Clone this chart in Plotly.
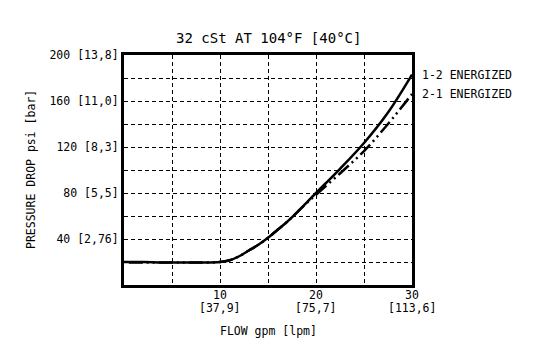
import plotly.graph_objects as go

flow_12 = [0, 2, 4, 6, 8, 10, 11, 12, 13, 14, 15, 16, 17, 18, 19, 20, 22.5, 25, 27.5, 30]
dp_12 = [20, 20, 19.5, 19.5, 19.5, 20, 21.5, 25, 30, 35, 41, 48, 55, 63, 71.5, 80, 101, 123.5, 150, 183]

flow_21 = [0.5, 2, 4, 6, 8, 10, 11, 12, 13, 14, 15, 16, 17, 18, 19, 20, 22.5, 25, 27.5, 30]
dp_21 = [19.5, 19.5, 19.5, 19.5, 19.5, 20, 21.5, 25, 30, 35, 41, 48, 55, 63, 71, 78.5, 97, 116.5, 140, 166]

series_names = ["1-2 ENERGIZED", "2-1 ENERGIZED"]

x_gridvals = [5, 10, 15, 20, 25]
x_label_vals = [10, 20, 30]
x_gpm_text = ["10", "20", "30"]
x_lpm_text = ["[37,9]", "[75,7]", "[113,6]"]
y_tickvals = [20, 40, 60, 80, 100, 120, 140, 160, 180, 200]
y_ticktext = ["", "40 [2,76]", "", "80 [5,5]", "", "120 [8,3]", "", "160 [11,0]", "", "200 [13,8]"]

FONT = "DejaVu Sans Mono, Liberation Mono, monospace"

fig = go.Figure()
fig.add_trace(go.Scatter(x=flow_12, y=dp_12, mode="lines", name=series_names[0],
                         line=dict(color="black", width=2.5, shape="spline")))
fig.add_trace(go.Scatter(x=flow_21, y=dp_21, mode="lines", name=series_names[1],
                         line=dict(color="black", width=2.5, shape="spline",
                                   dash="14px,4px,2px,4px,2px,4px")))

fig.update_layout(
    width=540, height=363,
    margin=dict(l=116, r=136, t=47, b=86),
    paper_bgcolor="white", plot_bgcolor="white",
    showlegend=False,
    font=dict(family=FONT, size=11.5, color="black"),
)
fig.update_xaxes(range=[0, 30], tickvals=x_gridvals, showticklabels=False,
                 showgrid=True, gridcolor="black", griddash="4px,3px", gridwidth=1,
                 showline=True, linecolor="black", linewidth=3, mirror=True,
                 ticks="", zeroline=False)
fig.update_yaxes(range=[0, 200], tickvals=y_tickvals, ticktext=y_ticktext,
                 showgrid=True, gridcolor="black", griddash="4px,3px", gridwidth=1,
                 showline=True, linecolor="black", linewidth=3, mirror=True,
                 ticks="", zeroline=False, tickfont=dict(size=11.5))

for xv, t1, t2 in zip(x_label_vals, x_gpm_text, x_lpm_text):
    fig.add_annotation(text=t1, xref="x", yref="paper", x=xv, y=0, yshift=-10,
                       xanchor="center", yanchor="middle", showarrow=False,
                       font=dict(size=11.5))
    fig.add_annotation(text=t2, xref="x", yref="paper", x=xv, y=0, yshift=-23,
                       xanchor="center", yanchor="middle", showarrow=False,
                       font=dict(size=11.5))

fig.add_annotation(text="32 cSt AT 104°F [40°C]", xref="paper", yref="paper",
                   x=0.5, y=1.0, yshift=17, xanchor="center", yanchor="middle",
                   showarrow=False, font=dict(size=14))
fig.add_annotation(text="FLOW gpm [lpm]", xref="paper", yref="paper",
                   x=0.5, y=0, yshift=-46, xanchor="center", yanchor="middle",
                   showarrow=False, font=dict(size=11.5))
fig.add_annotation(text="PRESSURE DROP psi [bar]", xref="paper", yref="paper",
                   x=0, xshift=-93, y=0.5, xanchor="center", yanchor="middle",
                   textangle=-90, showarrow=False, font=dict(size=11.5))
fig.add_annotation(text=series_names[0], xref="paper", yref="y", x=1, xshift=8,
                   y=dp_12[-1], xanchor="left", yanchor="middle", showarrow=False,
                   font=dict(size=11.5))
fig.add_annotation(text=series_names[1], xref="paper", yref="y", x=1, xshift=8,
                   y=dp_21[-1], xanchor="left", yanchor="middle", showarrow=False,
                   font=dict(size=11.5))

fig.write_html("out.html")
